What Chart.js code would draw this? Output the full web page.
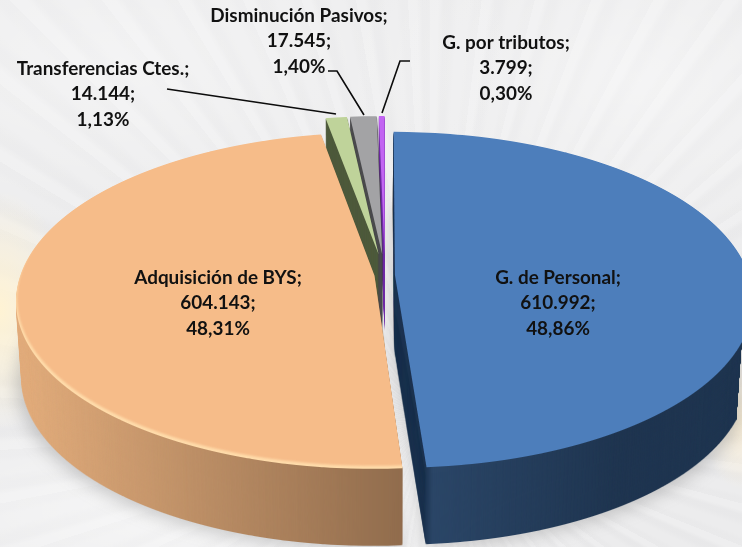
<!DOCTYPE html>
<html><head><meta charset="utf-8">
<style>
html,body{margin:0;padding:0;width:742px;height:547px;overflow:hidden;background-color:#ebebec}
body{background-image:
 radial-gradient(ellipse 70px 120px at 0px 310px,rgba(255,243,212,1),rgba(255,243,212,0)),
 radial-gradient(ellipse 40px 70px at 742px 420px,rgba(255,240,210,.8),rgba(255,240,210,0)),
 radial-gradient(ellipse 420px 120px at 200px 510px,rgba(255,255,255,.55),rgba(255,255,255,0)),
 radial-gradient(ellipse 420px 200px at 120px 60px,rgba(255,255,255,.4),rgba(255,255,255,0)),
 radial-gradient(ellipse 300px 200px at 640px 80px,rgba(255,255,255,.45),rgba(255,255,255,0)),
 repeating-conic-gradient(from 0deg at 430px 420px,rgba(255,255,255,.16) 0deg 1.1deg,rgba(205,205,209,.09) 1.9deg 2.7deg,rgba(255,255,255,.06) 3.9deg 5.3deg,rgba(212,212,215,.06) 6.1deg 7deg)}
canvas{display:block}
</style>
<script src="https://cdn.jsdelivr.net/npm/chart.js@4/dist/chart.umd.min.js"></script>
</head><body>
<canvas id="c" width="742" height="547"></canvas>
<script>
const categories=["G. de Personal","Adquisición de BYS","Transferencias Ctes.","Disminución Pasivos","G. por tributos"];
const values=[610992,604143,14144,17545,3799];
const percents=["48,86%","48,31%","1,13%","1,40%","0,30%"];
const explode=[.028,.03,.13,.13,.13];
const topColors=["#4d7ebb","#f6bc89","#bfd39a","#a3a3a5","#c264f2"];
const rimColors=[null,"#ffdcaa",null,null,null];
const wallStops=[
  [[425,"#1c3350"],[433,"#2b4667"],[620,"#1f3550"]],
  [[10,"#e4ae7d"],[410,"#8f6b4c"]],
  [[0,"#4e5a3c"]],[[0,"#4c4c4e"]],[[0,"#7330a8"]]
];
const drawOrder=[4,3,2,1,0];

const W=742,H=547;
const view={cx:385,cy:275,far:143,near:193,half:354,depth:77,shrink:.985};
const labelBoxes=[[558,284],[218,284],[103,75],[299,22],[506,49]];
const leaders=[null,null,[[167,89],[336,114]],[[328,71],[337,71],[364,115]],[[410,61],[400,61],[382,113]]];

const k=(view.far-view.near)/(view.far+view.near);
const A=view.near*(1+k);
function blank(){const c=document.createElement('canvas');c.width=W;c.height=H;return c;}
function warped(el,amount){
  const R=el.outerRadius, mid=(el.startAngle+el.endAngle)/2;
  const ox=Math.cos(mid)*amount*R, oy=Math.sin(mid)*amount*R;
  const c=blank(), g=c.getContext('2d');
  for(let y=0;y<H;y++){
    const dy=y+.5-view.cy, den=A-k*dy;
    if(den<=0) continue;
    const v=dy/den;
    if(Math.abs(v)>1.3) continue;
    const sx=view.half/(R*(1+k*v)), sy=den*den/(A*R);
    g.save();
    g.beginPath();g.rect(0,y,W,1);g.clip();
    g.setTransform(sx,0,0,sy,view.cx+sx*(ox-el.x),y+.5-sy*(el.y+R*v-oy));
    el.draw(g);
    g.restore();
  }
  return c;
}
function tinted(src,stops){
  const c=blank(), g=c.getContext('2d');
  g.drawImage(src,0,0);
  g.globalCompositeOperation='source-in';
  if(stops.length===1){g.fillStyle=stops[0][1];}
  else{
    const a=stops[0][0], b=stops[stops.length-1][0];
    const grad=g.createLinearGradient(a,0,b,0);
    stops.forEach(s=>grad.addColorStop((s[0]-a)/(b-a),s[1]));
    g.fillStyle=grad;
  }
  g.fillRect(0,0,W,H);
  return c;
}
function withRim(layer,rim){
  if(!rim) return layer;
  const c=tinted(layer,[[0,rim]]), g=c.getContext('2d');
  g.globalCompositeOperation='source-atop';
  g.filter='blur(1.2px)';
  g.drawImage(layer,1,-3);
  return c;
}
const pie3d={
  id:'pie3d',
  beforeDatasetsDraw(chart){
    const ctx=chart.ctx, arcs=chart.getDatasetMeta(0).data;
    const layers=arcs.map((el,i)=>warped(el,explode[i]));
    ctx.save();
    ctx.filter='blur(8px)';ctx.globalAlpha=.3;
    drawOrder.slice(3).forEach(i=>ctx.drawImage(tinted(layers[i],[[0,'#666']]),0,view.depth+4));
    ctx.restore();
    drawOrder.forEach(i=>{
      const wall=tinted(layers[i],wallStops[i]);
      for(let d=view.depth;d>=1;d--){
        const f=1-(1-view.shrink)*d/view.depth;
        ctx.drawImage(wall,view.cx*(1-f),d,W*f,H);
      }
      ctx.drawImage(withRim(layers[i],rimColors[i]),0,0);
    });
    return false;
  },
  afterDraw(chart){
    const ctx=chart.ctx;
    ctx.save();
    ctx.strokeStyle='#0c0c0c';ctx.lineWidth=1.6;
    leaders.forEach(p=>{
      if(!p) return;
      ctx.beginPath();p.forEach((q,j)=>j?ctx.lineTo(q[0],q[1]):ctx.moveTo(q[0],q[1]));ctx.stroke();
    });
    ctx.font='bold 18.9px Lato';ctx.fillStyle='#111';ctx.textAlign='center';ctx.textBaseline='alphabetic';
    categories.forEach((name,i)=>{
      const [x,y]=labelBoxes[i];
      ctx.fillText(name+';',x,y);
      ctx.fillText(values[i].toLocaleString('de-DE')+';',x,y+25.3);
      ctx.fillText(percents[i],x,y+50.6);
    });
    ctx.restore();
  }
};
new Chart(document.getElementById('c'),{
  type:'pie',
  data:{labels:categories,datasets:[{data:values,backgroundColor:topColors,borderWidth:0}]},
  options:{responsive:false,animation:false,rotation:0,
    events:[],
    layout:{padding:0},
    plugins:{legend:{display:false},tooltip:{enabled:false}}},
  plugins:[pie3d]
});
</script>
</body></html>
